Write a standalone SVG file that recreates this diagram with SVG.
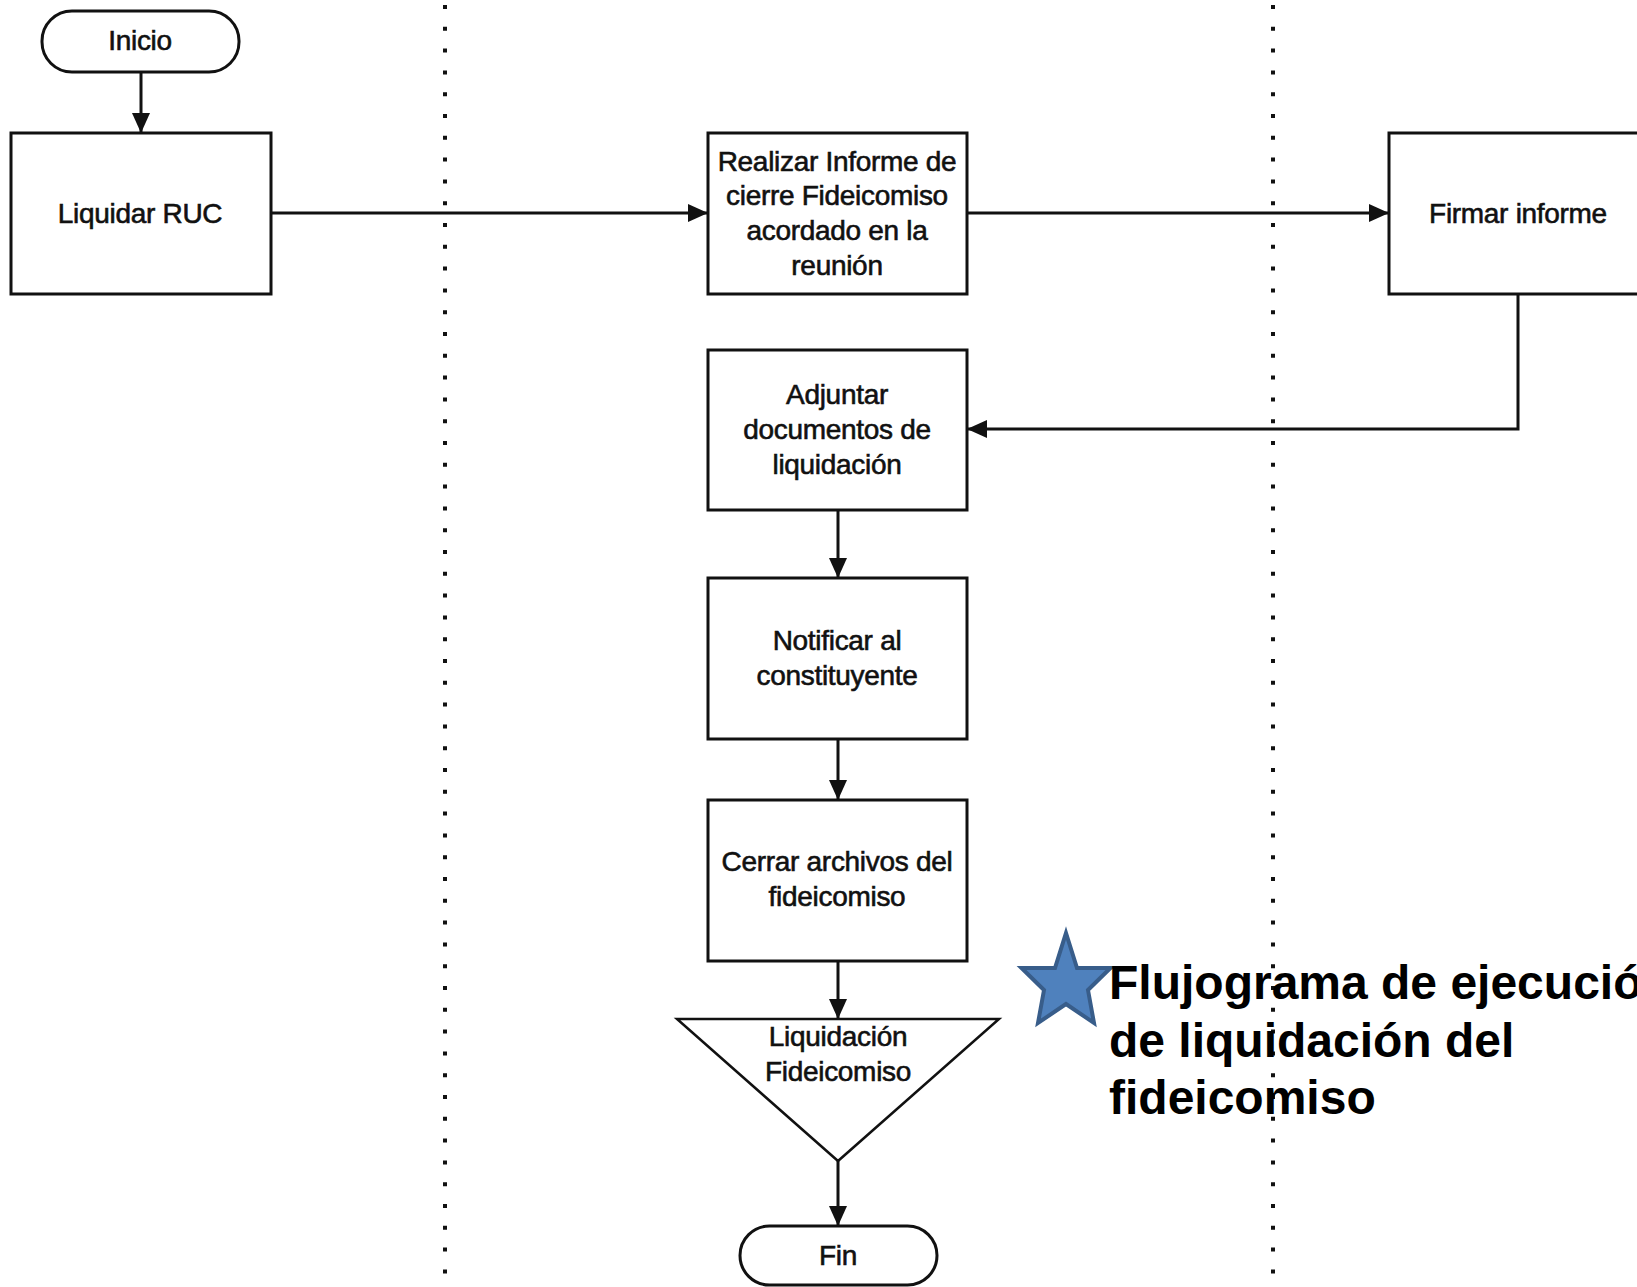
<svg xmlns="http://www.w3.org/2000/svg" width="1637" height="1287" viewBox="0 0 1637 1287">
  <style>
    .shape { fill: #ffffff; stroke: #111111; stroke-width: 3; }
    .tri { fill: #ffffff; stroke: #111111; stroke-width: 2.5; stroke-linejoin: miter; }
    .lbl { font-family: "Liberation Sans", Arial, sans-serif; font-size: 28px; fill: #111111; stroke: #111111; stroke-width: 0.6; text-anchor: middle; letter-spacing: -0.3px; }
    .conn { fill: none; stroke: #111111; stroke-width: 3; }
    .lane { stroke: #111111; stroke-width: 4; stroke-dasharray: 4 17.8; }
    .title { font-family: "Liberation Sans", Arial, sans-serif; font-size: 48px; font-weight: bold; fill: #000000; }
  </style>
  <defs>
    <marker id="arrow" viewBox="0 0 20 18" refX="20" refY="9" markerWidth="20" markerHeight="18" markerUnits="userSpaceOnUse" orient="auto">
      <path d="M0,0 L20,9 L0,18 z" fill="#111111"/>
    </marker>
  </defs>
  <rect width="1637" height="1287" fill="#ffffff"/>

  <!-- swimlane separators -->
  <g id="lanes">
    <line class="lane" x1="445" y1="5" x2="445" y2="1280"/>
    <line class="lane" x1="1273" y1="5" x2="1273" y2="1280"/>
  </g>

  <!-- connectors -->
  <g id="connectors">
    <line class="conn" x1="141" y1="72" x2="141" y2="133" marker-end="url(#arrow)"/>
    <line class="conn" x1="271" y1="213" x2="708" y2="213" marker-end="url(#arrow)"/>
    <line class="conn" x1="967" y1="213" x2="1389" y2="213" marker-end="url(#arrow)"/>
    <polyline class="conn" points="1518,294 1518,429 967,429" marker-end="url(#arrow)"/>
    <line class="conn" x1="838" y1="510" x2="838" y2="578" marker-end="url(#arrow)"/>
    <line class="conn" x1="838" y1="739" x2="838" y2="800" marker-end="url(#arrow)"/>
    <line class="conn" x1="838" y1="961" x2="838" y2="1019" marker-end="url(#arrow)"/>
    <line class="conn" x1="838" y1="1161" x2="838" y2="1226" marker-end="url(#arrow)"/>
  </g>

  <!-- nodes -->
  <g id="inicio">
    <rect class="shape" x="42" y="11" width="197" height="61" rx="30" ry="30"/>
    <text class="lbl" x="140" y="50">Inicio</text>
  </g>
  <g id="liquidar-ruc">
    <rect class="shape" x="11" y="133" width="260" height="161"/>
    <text class="lbl" x="140" y="223">Liquidar RUC</text>
  </g>
  <g id="realizar-informe">
    <rect class="shape" x="708" y="133" width="259" height="161"/>
    <text class="lbl" x="837" y="171">Realizar Informe de</text>
    <text class="lbl" x="837" y="205">cierre Fideicomiso</text>
    <text class="lbl" x="837" y="240">acordado en la</text>
    <text class="lbl" x="837" y="275">reunión</text>
  </g>
  <g id="firmar-informe">
    <rect class="shape" x="1389" y="133" width="258" height="161"/>
    <text class="lbl" x="1518" y="223">Firmar informe</text>
  </g>
  <g id="adjuntar-documentos">
    <rect class="shape" x="708" y="350" width="259" height="160"/>
    <text class="lbl" x="837" y="404">Adjuntar</text>
    <text class="lbl" x="837" y="439">documentos de</text>
    <text class="lbl" x="837" y="474">liquidación</text>
  </g>
  <g id="notificar">
    <rect class="shape" x="708" y="578" width="259" height="161"/>
    <text class="lbl" x="837" y="650">Notificar al</text>
    <text class="lbl" x="837" y="685">constituyente</text>
  </g>
  <g id="cerrar-archivos">
    <rect class="shape" x="708" y="800" width="259" height="161"/>
    <text class="lbl" x="837" y="871">Cerrar archivos del</text>
    <text class="lbl" x="837" y="906">fideicomiso</text>
  </g>
  <g id="liquidacion-fideicomiso">
    <polygon class="tri" points="677,1019 999,1019 838,1161"/>
    <text class="lbl" x="838" y="1046">Liquidación</text>
    <text class="lbl" x="838" y="1081">Fideicomiso</text>
  </g>
  <g id="fin">
    <rect class="shape" x="740" y="1226" width="197" height="59" rx="29.5" ry="29.5"/>
    <text class="lbl" x="838" y="1265">Fin</text>
  </g>

  <!-- caption with star -->
  <g id="caption">
    <polygon points="1066,933 1077,968 1110.5,968 1088,990 1094,1023 1066,1004 1038,1023 1044,990 1021.5,968 1055,968" fill="#4F81BD" stroke="#385D8A" stroke-width="4" stroke-linejoin="miter"/>
    <text class="title" x="1109" y="999">Flujograma de ejecución</text>
    <text class="title" x="1109" y="1057">de liquidación del</text>
    <text class="title" x="1109" y="1114">fideicomiso</text>
  </g>
</svg>
